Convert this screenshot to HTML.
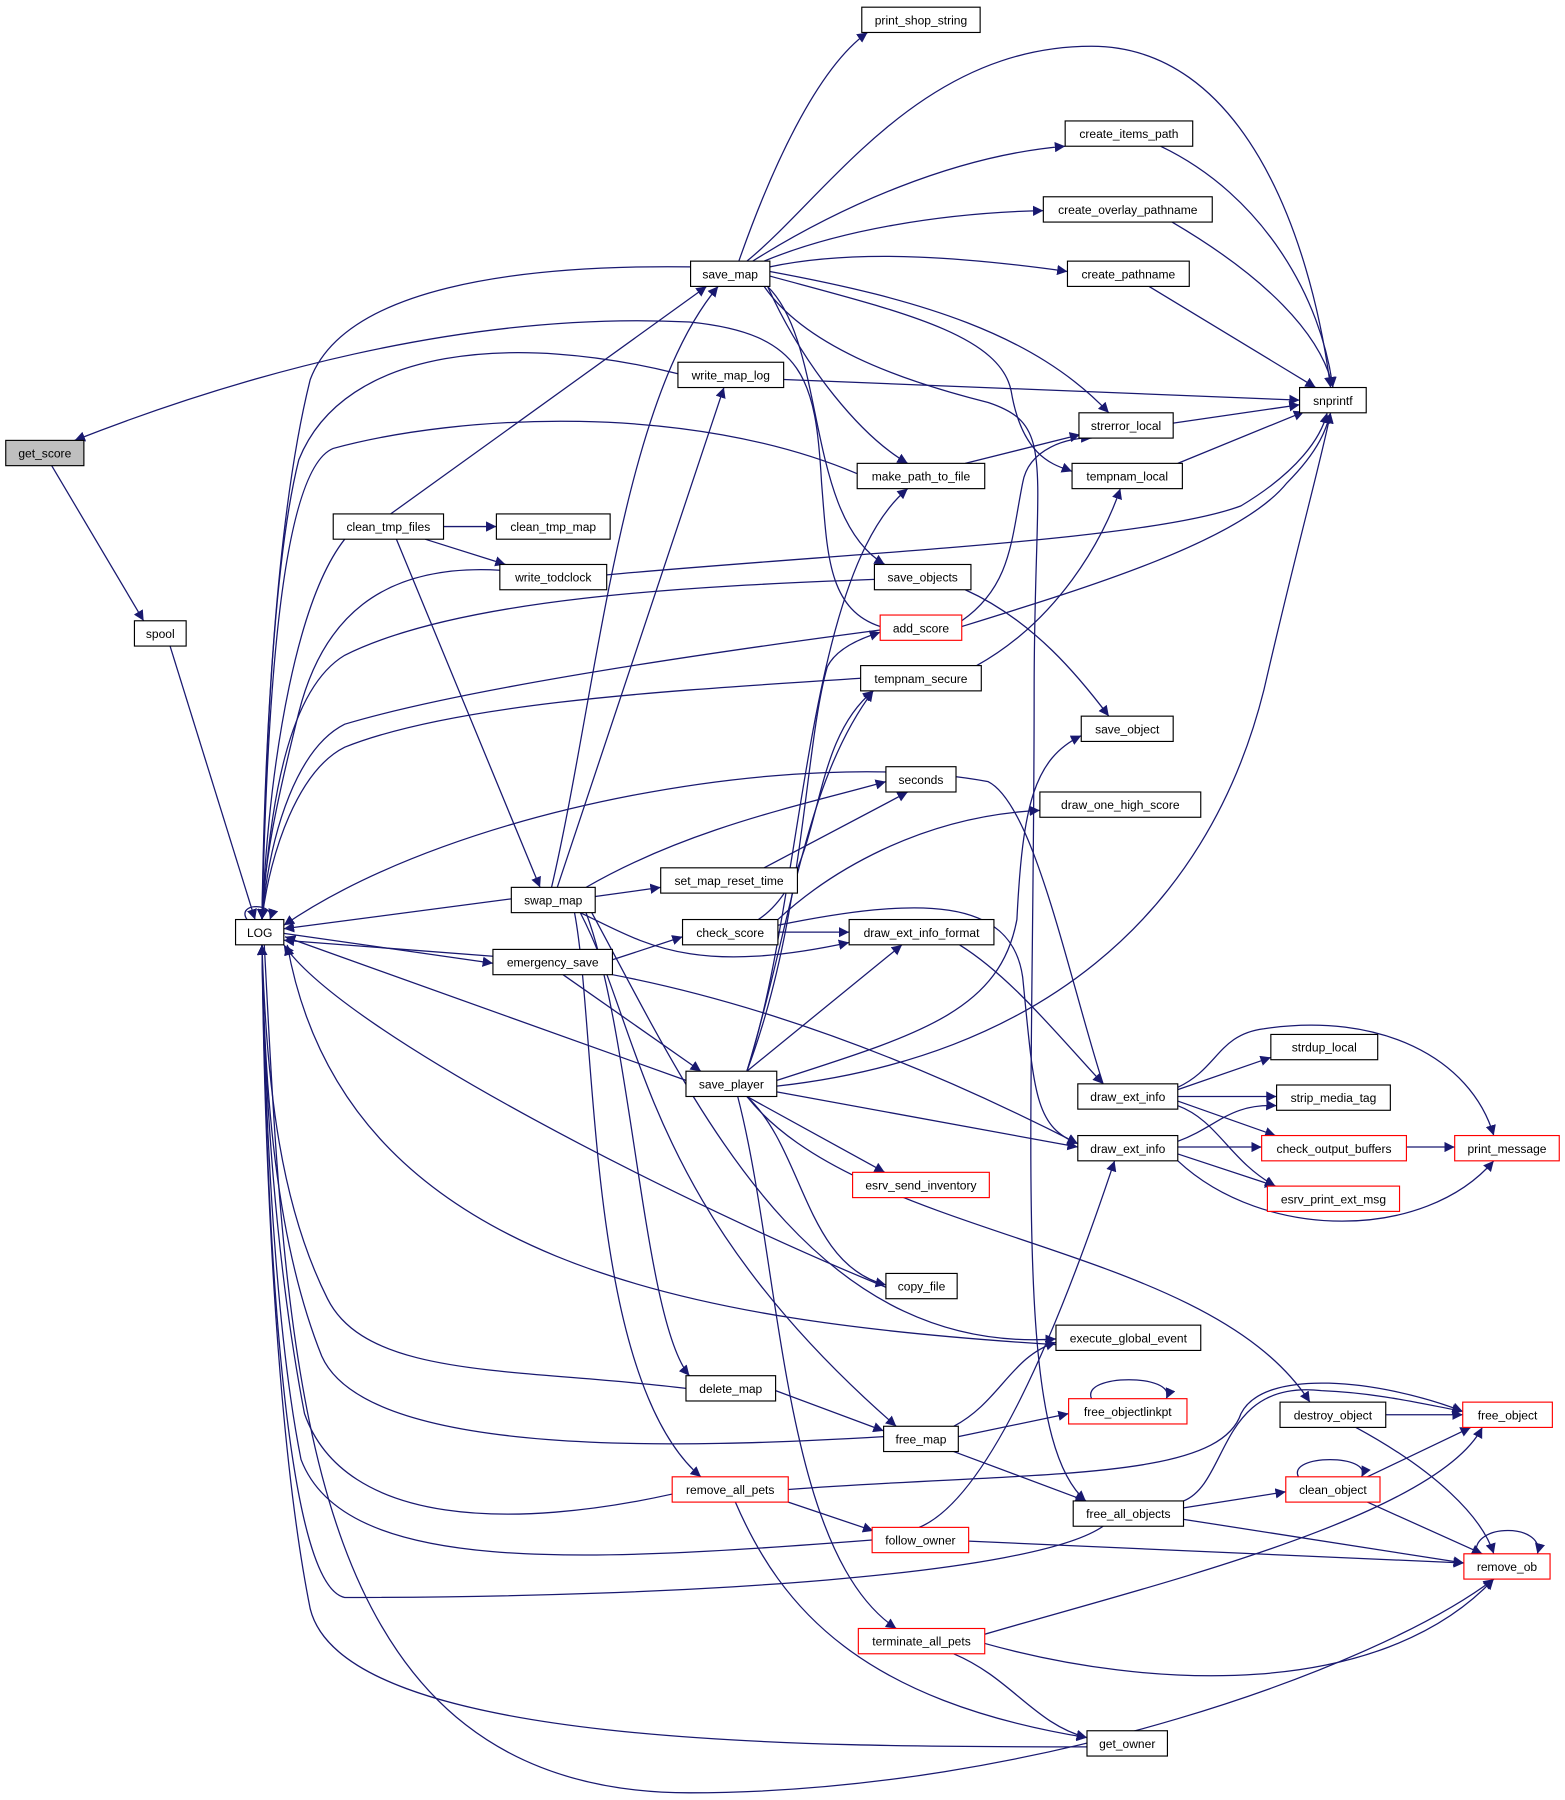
<!DOCTYPE html>
<html><head><meta charset="utf-8"><style>
html,body{margin:0;padding:0;background:#fff}
svg{display:block}
text{font-family:"Liberation Sans",Arial,sans-serif;font-size:10.5px;fill:#000}
.e{fill:none;stroke:#191970;stroke-width:1.1}
</style></head><body>
<svg width="1565" height="1800" viewBox="0 0 1362 1566" xmlns="http://www.w3.org/2000/svg">
<defs><marker id="a" viewBox="0 0 10 10" refX="10" refY="5" markerWidth="9" markerHeight="9" orient="auto" markerUnits="userSpaceOnUse"><path d="M0,0L10,5L0,10z" fill="#191970"/></marker></defs>
<g class="e" marker-end="url(#a)">
<path d="M643,227 C670,150 710,60 755,28"/>
<path d="M650,227 C720,170 800,40 950,40 C1080,40 1140,200 1158,337"/>
<path d="M655,227 C730,180 830,135 927,127"/>
<path d="M665,227 C730,200 820,185 908,183"/>
<path d="M670,232 C750,215 850,225 929,236"/>
<path d="M670,236 C800,260 900,290 965,359"/>
<path d="M670,240 C780,270 870,290 880,340 C890,400 920,405 933,410"/>
<path d="M668,249 C700,320 750,380 790,403"/>
<path d="M668,249 C720,300 700,450 770,491"/>
<path d="M601,232 C450,230 300,250 270,330 C240,450 230,650 228,800"/>
<path d="M665,249 C700,300 780,330 860,350 C920,370 900,400 900,600 C900,1000 880,1250 945,1306"/>
<path d="M1010,127 C1100,170 1150,260 1160,337"/>
<path d="M1020,193 C1100,240 1150,290 1160,337"/>
<path d="M1000,249 L1145,337"/>
<path d="M682,330 L1131,348"/>
<path d="M590,325 C450,290 300,300 260,400 C235,500 230,700 228,800"/>
<path d="M766,545 C720,530 720,480 715,420 C710,330 700,290 600,280 C400,270 200,330 65,383"/>
<path d="M45,405 L125,540"/>
<path d="M148,562 L222,800"/>
<path d="M215,800 C205,785 240,785 235,800"/>
<path d="M1021,368 L1131,352"/>
<path d="M1025,403 L1135,358"/>
<path d="M840,403 L940,378"/>
<path d="M746,412 C600,350 400,360 290,390 C240,410 232,650 228,800"/>
<path d="M386,458 L432,458"/>
<path d="M370,469 L440,491"/>
<path d="M345,469 L470,772"/>
<path d="M340,447 L615,249"/>
<path d="M300,469 C260,520 235,650 228,800"/>
<path d="M528,500 C750,480 1000,470 1080,440 C1130,410 1150,380 1155,359"/>
<path d="M435,496 C330,490 280,540 260,620 C240,700 230,750 228,800"/>
<path d="M761,504 C600,510 400,520 300,570 C250,600 235,700 228,800"/>
<path d="M840,513 C900,540 940,590 965,623"/>
<path d="M837,545 C950,510 1080,470 1120,420 C1150,390 1155,370 1158,359"/>
<path d="M837,540 C880,510 880,470 890,420 C895,390 930,380 950,381"/>
<path d="M766,548 C600,570 400,600 300,630 C260,650 235,720 228,800"/>
<path d="M850,579 C920,540 960,470 975,425"/>
<path d="M749,590 C600,600 400,610 300,650 C260,670 235,740 228,800"/>
<path d="M650,932 C700,800 700,650 720,580 C730,560 760,552 766,550"/>
<path d="M650,932 C700,780 700,500 790,425"/>
<path d="M650,932 C690,800 700,680 760,601"/>
<path d="M650,932 L785,822"/>
<path d="M676,940 C800,900 870,880 885,800 C890,700 900,660 941,640"/>
<path d="M676,945 C900,920 1050,800 1100,600 C1130,470 1150,400 1158,359"/>
<path d="M676,950 L938,998"/>
<path d="M650,954 L770,1020"/>
<path d="M650,954 C700,1000 700,1100 771,1118"/>
<path d="M650,954 C750,1080 1050,1080 1140,1220"/>
<path d="M642,954 C680,1100 680,1350 780,1417"/>
<path d="M597,940 L248,815"/>
<path d="M445,782 L247,808"/>
<path d="M485,772 L630,337"/>
<path d="M480,772 C520,600 540,350 625,249"/>
<path d="M510,772 C600,720 700,700 771,680"/>
<path d="M518,780 L575,772"/>
<path d="M505,794 C560,820 600,850 739,820"/>
<path d="M510,794 C550,900 560,1150 600,1197"/>
<path d="M505,794 C560,900 560,1050 780,1241"/>
<path d="M500,794 C520,900 510,1200 610,1285"/>
<path d="M515,794 C600,950 700,1180 919,1165"/>
<path d="M665,755 L790,689"/>
<path d="M677,811 L739,811"/>
<path d="M677,800 C720,760 800,710 905,705"/>
<path d="M660,800 C720,760 700,650 760,601"/>
<path d="M677,805 C800,780 880,780 890,850 C900,950 900,980 938,995"/>
<path d="M429,832 L247,818"/>
<path d="M247,812 L429,838"/>
<path d="M533,835 L594,815"/>
<path d="M490,848 L610,932"/>
<path d="M533,848 C700,880 850,950 938,995"/>
<path d="M835,822 C880,850 920,900 960,943"/>
<path d="M1025,948 L1106,920"/>
<path d="M1025,954 L1111,954"/>
<path d="M1025,958 L1110,988"/>
<path d="M1025,946 C1060,930 1060,900 1100,895 C1200,880 1280,920 1300,988"/>
<path d="M1025,962 C1060,975 1070,1010 1110,1032"/>
<path d="M960,943 C930,850 900,700 860,680 C700,650 400,700 247,805"/>
<path d="M1025,993 C1060,980 1070,960 1111,962"/>
<path d="M1025,998 L1098,998"/>
<path d="M1025,1004 L1110,1032"/>
<path d="M1025,1010 C1100,1080 1240,1080 1300,1010"/>
<path d="M1224,998 L1266,998"/>
<path d="M830,1241 C870,1220 880,1180 919,1168"/>
<path d="M834,1250 L930,1230"/>
<path d="M830,1263 L945,1306"/>
<path d="M769,1250 C600,1260 320,1270 280,1180 C240,1080 230,950 228,822"/>
<path d="M950,1217 C940,1195 1025,1195 1015,1217"/>
<path d="M675,1210 L769,1245"/>
<path d="M597,1208 C450,1190 320,1200 285,1130 C245,1050 232,950 228,822"/>
<path d="M686,1307 L760,1332"/>
<path d="M640,1307 C680,1400 750,1480 946,1512"/>
<path d="M686,1296 C900,1280 1060,1290 1080,1230 C1100,1190 1200,1200 1273,1228"/>
<path d="M585,1300 C450,1330 300,1330 265,1230 C240,1100 230,950 228,822"/>
<path d="M800,1329 C870,1300 940,1100 970,1010"/>
<path d="M843,1341 L1274,1360"/>
<path d="M759,1340 C500,1360 300,1370 262,1270 C238,1150 230,950 228,822"/>
<path d="M1030,1312 L1119,1298"/>
<path d="M1030,1322 L1274,1360"/>
<path d="M1030,1306 C1070,1290 1060,1200 1150,1210 C1200,1212 1240,1222 1273,1228"/>
<path d="M960,1328 C900,1370 600,1390 300,1390 C250,1380 232,1100 228,822"/>
<path d="M1130,1285 C1120,1265 1195,1265 1185,1285"/>
<path d="M1190,1285 L1280,1242"/>
<path d="M1190,1307 L1290,1352"/>
<path d="M1206,1231 L1273,1231"/>
<path d="M1180,1242 C1250,1280 1290,1320 1300,1352"/>
<path d="M1285,1352 C1280,1325 1345,1325 1338,1352"/>
<path d="M857,1422 C1000,1380 1250,1320 1290,1242"/>
<path d="M857,1430 C1000,1470 1200,1480 1300,1374"/>
<path d="M830,1439 C880,1460 900,1500 946,1512"/>
<path d="M946,1520 C700,1520 300,1520 270,1400 C240,1250 230,1000 228,822"/>
<path d="M230,822 C250,1200 260,1560 600,1560 C900,1560 1200,1450 1300,1374"/>
<path d="M771,1120 C600,1050 300,900 247,822"/>
<path d="M919,1170 C600,1150 300,1100 250,822"/>
</g>
<g stroke-width="1" fill="#fff">
<rect x="5" y="383" width="68" height="22" fill="#bfbfbf" stroke="#000"/>
<rect x="117" y="540" width="45" height="22" stroke="#000"/>
<rect x="205" y="800" width="42" height="22" stroke="#000"/>
<rect x="750" y="6" width="103" height="22" stroke="#000"/>
<rect x="927" y="105" width="111" height="22" stroke="#000"/>
<rect x="908" y="171" width="147" height="22" stroke="#000"/>
<rect x="601" y="227" width="69" height="22" stroke="#000"/>
<rect x="929" y="227" width="106" height="22" stroke="#000"/>
<rect x="590" y="315" width="92" height="22" stroke="#000"/>
<rect x="1131" y="337" width="58" height="22" stroke="#000"/>
<rect x="939" y="359" width="82" height="22" stroke="#000"/>
<rect x="746" y="403" width="111" height="22" stroke="#000"/>
<rect x="933" y="403" width="96" height="22" stroke="#000"/>
<rect x="290" y="447" width="96" height="22" stroke="#000"/>
<rect x="432" y="447" width="99" height="22" stroke="#000"/>
<rect x="435" y="491" width="93" height="22" stroke="#000"/>
<rect x="761" y="491" width="84" height="22" stroke="#000"/>
<rect x="766" y="535" width="71" height="22" stroke="#f00"/>
<rect x="749" y="579" width="105" height="22" stroke="#000"/>
<rect x="941" y="623" width="80" height="22" stroke="#000"/>
<rect x="771" y="667" width="61" height="22" stroke="#000"/>
<rect x="905" y="689" width="140" height="22" stroke="#000"/>
<rect x="575" y="755" width="119" height="22" stroke="#000"/>
<rect x="445" y="772" width="73" height="22" stroke="#000"/>
<rect x="594" y="800" width="83" height="22" stroke="#000"/>
<rect x="739" y="800" width="126" height="22" stroke="#000"/>
<rect x="429" y="826" width="104" height="22" stroke="#000"/>
<rect x="1106" y="900" width="93" height="22" stroke="#000"/>
<rect x="938" y="943" width="87" height="22" stroke="#000"/>
<rect x="1111" y="944" width="99" height="22" stroke="#000"/>
<rect x="597" y="932" width="79" height="22" stroke="#000"/>
<rect x="938" y="988" width="87" height="22" stroke="#000"/>
<rect x="1098" y="988" width="126" height="22" stroke="#f00"/>
<rect x="1266" y="988" width="91" height="22" stroke="#f00"/>
<rect x="742" y="1020" width="119" height="22" stroke="#f00"/>
<rect x="1103" y="1032" width="115" height="22" stroke="#f00"/>
<rect x="771" y="1108" width="62" height="22" stroke="#000"/>
<rect x="919" y="1153" width="126" height="22" stroke="#000"/>
<rect x="930" y="1217" width="103" height="22" stroke="#f00"/>
<rect x="597" y="1197" width="78" height="22" stroke="#000"/>
<rect x="1114" y="1220" width="92" height="22" stroke="#000"/>
<rect x="1273" y="1220" width="78" height="22" stroke="#f00"/>
<rect x="769" y="1241" width="65" height="22" stroke="#000"/>
<rect x="585" y="1285" width="101" height="22" stroke="#f00"/>
<rect x="1119" y="1285" width="82" height="22" stroke="#f00"/>
<rect x="934" y="1306" width="96" height="22" stroke="#000"/>
<rect x="759" y="1329" width="84" height="22" stroke="#f00"/>
<rect x="1274" y="1352" width="75" height="22" stroke="#f00"/>
<rect x="747" y="1417" width="110" height="22" stroke="#f00"/>
<rect x="946" y="1506" width="70" height="22" stroke="#000"/>
</g>
<g text-anchor="middle">
<text x="39" y="398">get_score</text>
<text x="139.5" y="555">spool</text>
<text x="226" y="815">LOG</text>
<text x="801.5" y="21">print_shop_string</text>
<text x="982.5" y="120">create_items_path</text>
<text x="981.5" y="186">create_overlay_pathname</text>
<text x="635.5" y="242">save_map</text>
<text x="982" y="242">create_pathname</text>
<text x="636" y="330">write_map_log</text>
<text x="1160" y="352">snprintf</text>
<text x="980" y="374">strerror_local</text>
<text x="801.5" y="418">make_path_to_file</text>
<text x="981" y="418">tempnam_local</text>
<text x="338" y="462">clean_tmp_files</text>
<text x="481.5" y="462">clean_tmp_map</text>
<text x="481.5" y="506">write_todclock</text>
<text x="803" y="506">save_objects</text>
<text x="801.5" y="550">add_score</text>
<text x="801.5" y="594">tempnam_secure</text>
<text x="981" y="638">save_object</text>
<text x="801.5" y="682">seconds</text>
<text x="975" y="704">draw_one_high_score</text>
<text x="634.5" y="770">set_map_reset_time</text>
<text x="481.5" y="787">swap_map</text>
<text x="635.5" y="815">check_score</text>
<text x="802" y="815">draw_ext_info_format</text>
<text x="481" y="841">emergency_save</text>
<text x="1152.5" y="915">strdup_local</text>
<text x="981.5" y="958">draw_ext_info</text>
<text x="1160.5" y="959">strip_media_tag</text>
<text x="636.5" y="947">save_player</text>
<text x="981.5" y="1003">draw_ext_info</text>
<text x="1161" y="1003">check_output_buffers</text>
<text x="1311.5" y="1003">print_message</text>
<text x="801.5" y="1035">esrv_send_inventory</text>
<text x="1160.5" y="1047">esrv_print_ext_msg</text>
<text x="802" y="1123">copy_file</text>
<text x="982" y="1168">execute_global_event</text>
<text x="981.5" y="1232">free_objectlinkpt</text>
<text x="636" y="1212">delete_map</text>
<text x="1160" y="1235">destroy_object</text>
<text x="1312" y="1235">free_object</text>
<text x="801.5" y="1256">free_map</text>
<text x="635.5" y="1300">remove_all_pets</text>
<text x="1160" y="1300">clean_object</text>
<text x="982" y="1321">free_all_objects</text>
<text x="801" y="1344">follow_owner</text>
<text x="1311.5" y="1367">remove_ob</text>
<text x="802" y="1432">terminate_all_pets</text>
<text x="981" y="1521">get_owner</text>
</g>
</svg>
</body></html>
